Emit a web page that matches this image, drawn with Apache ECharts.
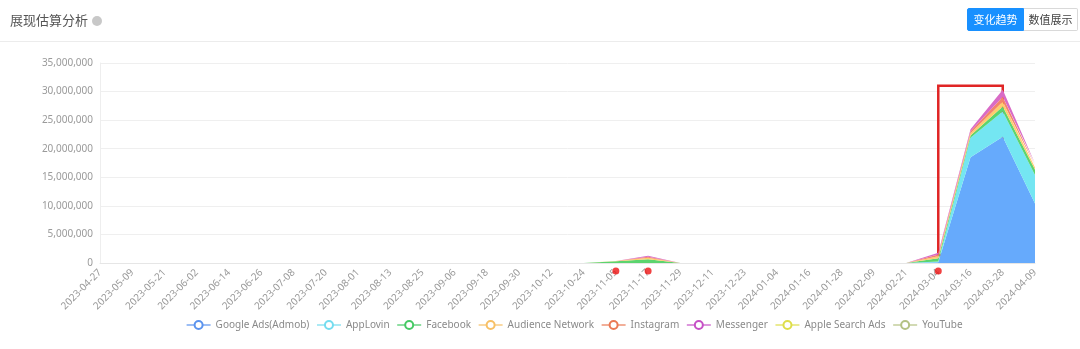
<!DOCTYPE html>
<html>
<head>
<meta charset="utf-8">
<script src="https://cdn.jsdelivr.net/npm/echarts@6/dist/echarts.min.js"></script>
<style>
html,body{margin:0;padding:0;background:#fff;width:1080px;height:349px;overflow:hidden;font-family:"Noto Sans","Noto Sans CJK SC",sans-serif;}
#header{position:absolute;left:0;top:0;width:1080px;height:41px;border-bottom:1px solid #ececec;}
#title{position:absolute;left:10px;top:10px;font-size:13px;color:#555;line-height:20px;white-space:nowrap;}
#title .dot{display:inline-block;width:10px;height:10px;border-radius:50%;background:#c8c8c8;margin-left:4px;vertical-align:-1px;}
#btns{position:absolute;left:967px;top:8px;height:23px;white-space:nowrap;font-size:11px;}
#btns div{display:inline-block;box-sizing:border-box;height:23px;line-height:21px;text-align:center;border:1px solid #d9d9d9;vertical-align:top;}
#btns .on{width:57px;background:#1890ff;border-color:#1890ff;color:#fff;border-radius:2px 0 0 2px;}
#btns .off{width:54px;background:#fff;color:#444;border-left:none;border-radius:0 2px 2px 0;}
#chart{position:absolute;left:0;top:0;width:1080px;height:349px;}
</style>
</head>
<body>
<div id="chart"></div>
<div id="header">
  <div id="title">展现估算分析<span class="dot"></span></div>
  <div id="btns"><div class="on">变化趋势</div><div class="off">数值展示</div></div>
</div>
<script>
var dates = ['2023-04-27','2023-05-09','2023-05-21','2023-06-02','2023-06-14','2023-06-26','2023-07-08','2023-07-20','2023-08-01','2023-08-13','2023-08-25','2023-09-06','2023-09-18','2023-09-30','2023-10-12','2023-10-24','2023-11-05','2023-11-17','2023-11-29','2023-12-11','2023-12-23','2024-01-04','2024-01-16','2024-01-28','2024-02-09','2024-02-21','2024-03-04','2024-03-16','2024-03-28','2024-04-09'];
var seriesNames = ['Google Ads(Admob)','AppLovin','Facebook','Audience Network','Instagram','Messenger','Apple Search Ads','YouTube'];
var googleAds = [0,0,0,0,0,0,0,0,0,0,0,0,0,0,0,0,0,0,0,0,0,0,0,0,0,0,150000,18500000,22100000,10400000];
var appLovin  = [0,0,0,0,0,0,0,0,0,0,0,0,0,0,0,0,0,0,0,0,0,0,0,0,0,0,100000,3400000,4400000,5000000];
var facebook  = [0,0,0,0,0,0,0,0,0,0,0,0,0,0,0,0,300000,650000,0,0,0,0,0,0,0,0,600000,400000,900000,900000];
var audience  = [0,0,0,0,0,0,0,0,0,0,0,0,0,0,0,0,30000,280000,0,0,0,0,0,0,0,0,350000,400000,800000,400000];
var instagram = [0,0,0,0,0,0,0,0,0,0,0,0,0,0,0,0,20000,170000,0,0,0,0,0,0,0,0,300000,350000,900000,350000];
var messenger = [0,0,0,0,0,0,0,0,0,0,0,0,0,0,0,0,0,180000,0,0,0,0,0,0,0,0,300000,350000,1200000,350000];
var appleSearch = [0,0,0,0,0,0,0,0,0,0,0,0,0,0,0,0,0,0,0,0,0,0,0,0,0,0,0,0,0,0];
var youTube   = [0,0,0,0,0,0,0,0,0,0,0,0,0,0,0,0,0,0,0,0,0,0,0,0,0,0,0,0,0,0];
var markerDates = ['2023-11-05','2023-11-17','2024-03-04'];
var boxRange = [['2024-03-04', 1400000], ['2024-03-28', 31000000]];
var yTicks = {min:0, max:35000000, interval:5000000};

var values = [googleAds, appLovin, facebook, audience, instagram, messenger, appleSearch, youTube];
var lineColors = ['#5b93ee','#74dcef','#45c964','#f7c066','#ea7a55','#c650c6','#dede4a','#b4c283'];
var areaColors = ['#66aafc','#74e6f2','#5bd46e','#ffcc6e','#f4846a','#d96bc6','#eaea6a','#c2cc90'];

var series = seriesNames.map(function(n, i){
  return {
    name: n, type: 'line', stack: 'total', data: values[i],
    symbol: 'emptyCircle', symbolSize: 8, showSymbol: false,
    lineStyle: {width: 0, color: lineColors[i]},
    itemStyle: {color: lineColors[i]},
    areaStyle: {color: areaColors[i], opacity: 1},
    emphasis: {disabled: true}
  };
});
series.push({
  name: 'marker', type: 'scatter', clip: false,
  data: markerDates.map(function(d){ return [d, 0]; }),
  symbol: 'circle', symbolSize: 7, symbolOffset: [0, 8],
  itemStyle: {color: '#ee1111'}, z: 10,
  markArea: {
    silent: true,
    itemStyle: {color: 'rgba(0,0,0,0)', borderColor: '#e02525', borderWidth: 2.5},
    data: [[{xAxis: boxRange[0][0], yAxis: boxRange[0][1]}, {xAxis: boxRange[1][0], yAxis: boxRange[1][1]}]]
  }
});

var chart = echarts.init(document.getElementById('chart'), null, {renderer: 'canvas'});
chart.setOption({
  animation: false,
  textStyle: {fontFamily: '"Noto Sans","Noto Sans CJK SC",sans-serif'},
  grid: {left: 100, right: 45, top: 63, bottom: 86},
  legend: {
    data: seriesNames, top: 315, left: 181, itemWidth: 24, itemHeight: 10, itemGap: 7,
    lineStyle: {width: 1.2},
    textStyle: {color: '#8a8a8a', fontSize: 10}
  },
  xAxis: {
    type: 'category', data: dates, boundaryGap: false,
    axisLine: {lineStyle: {color: '#e6e6e6'}},
    axisTick: {show: false},
    axisLabel: {rotate: 45, color: '#9a9a9a', fontSize: 10, interval: 0, margin: 8}
  },
  yAxis: {
    type: 'value', min: yTicks.min, max: yTicks.max, interval: yTicks.interval,
    axisLine: {show: true, lineStyle: {color: '#eeeeee'}},
    axisTick: {show: false},
    splitLine: {lineStyle: {color: '#efefef'}},
    axisLabel: {color: '#9a9a9a', fontSize: 10, margin: 7,
      formatter: function(v){ return v.toString().replace(/\B(?=(\d{3})+(?!\d))/g, ','); }}
  },
  series: series
});
</script>
</body>
</html>
